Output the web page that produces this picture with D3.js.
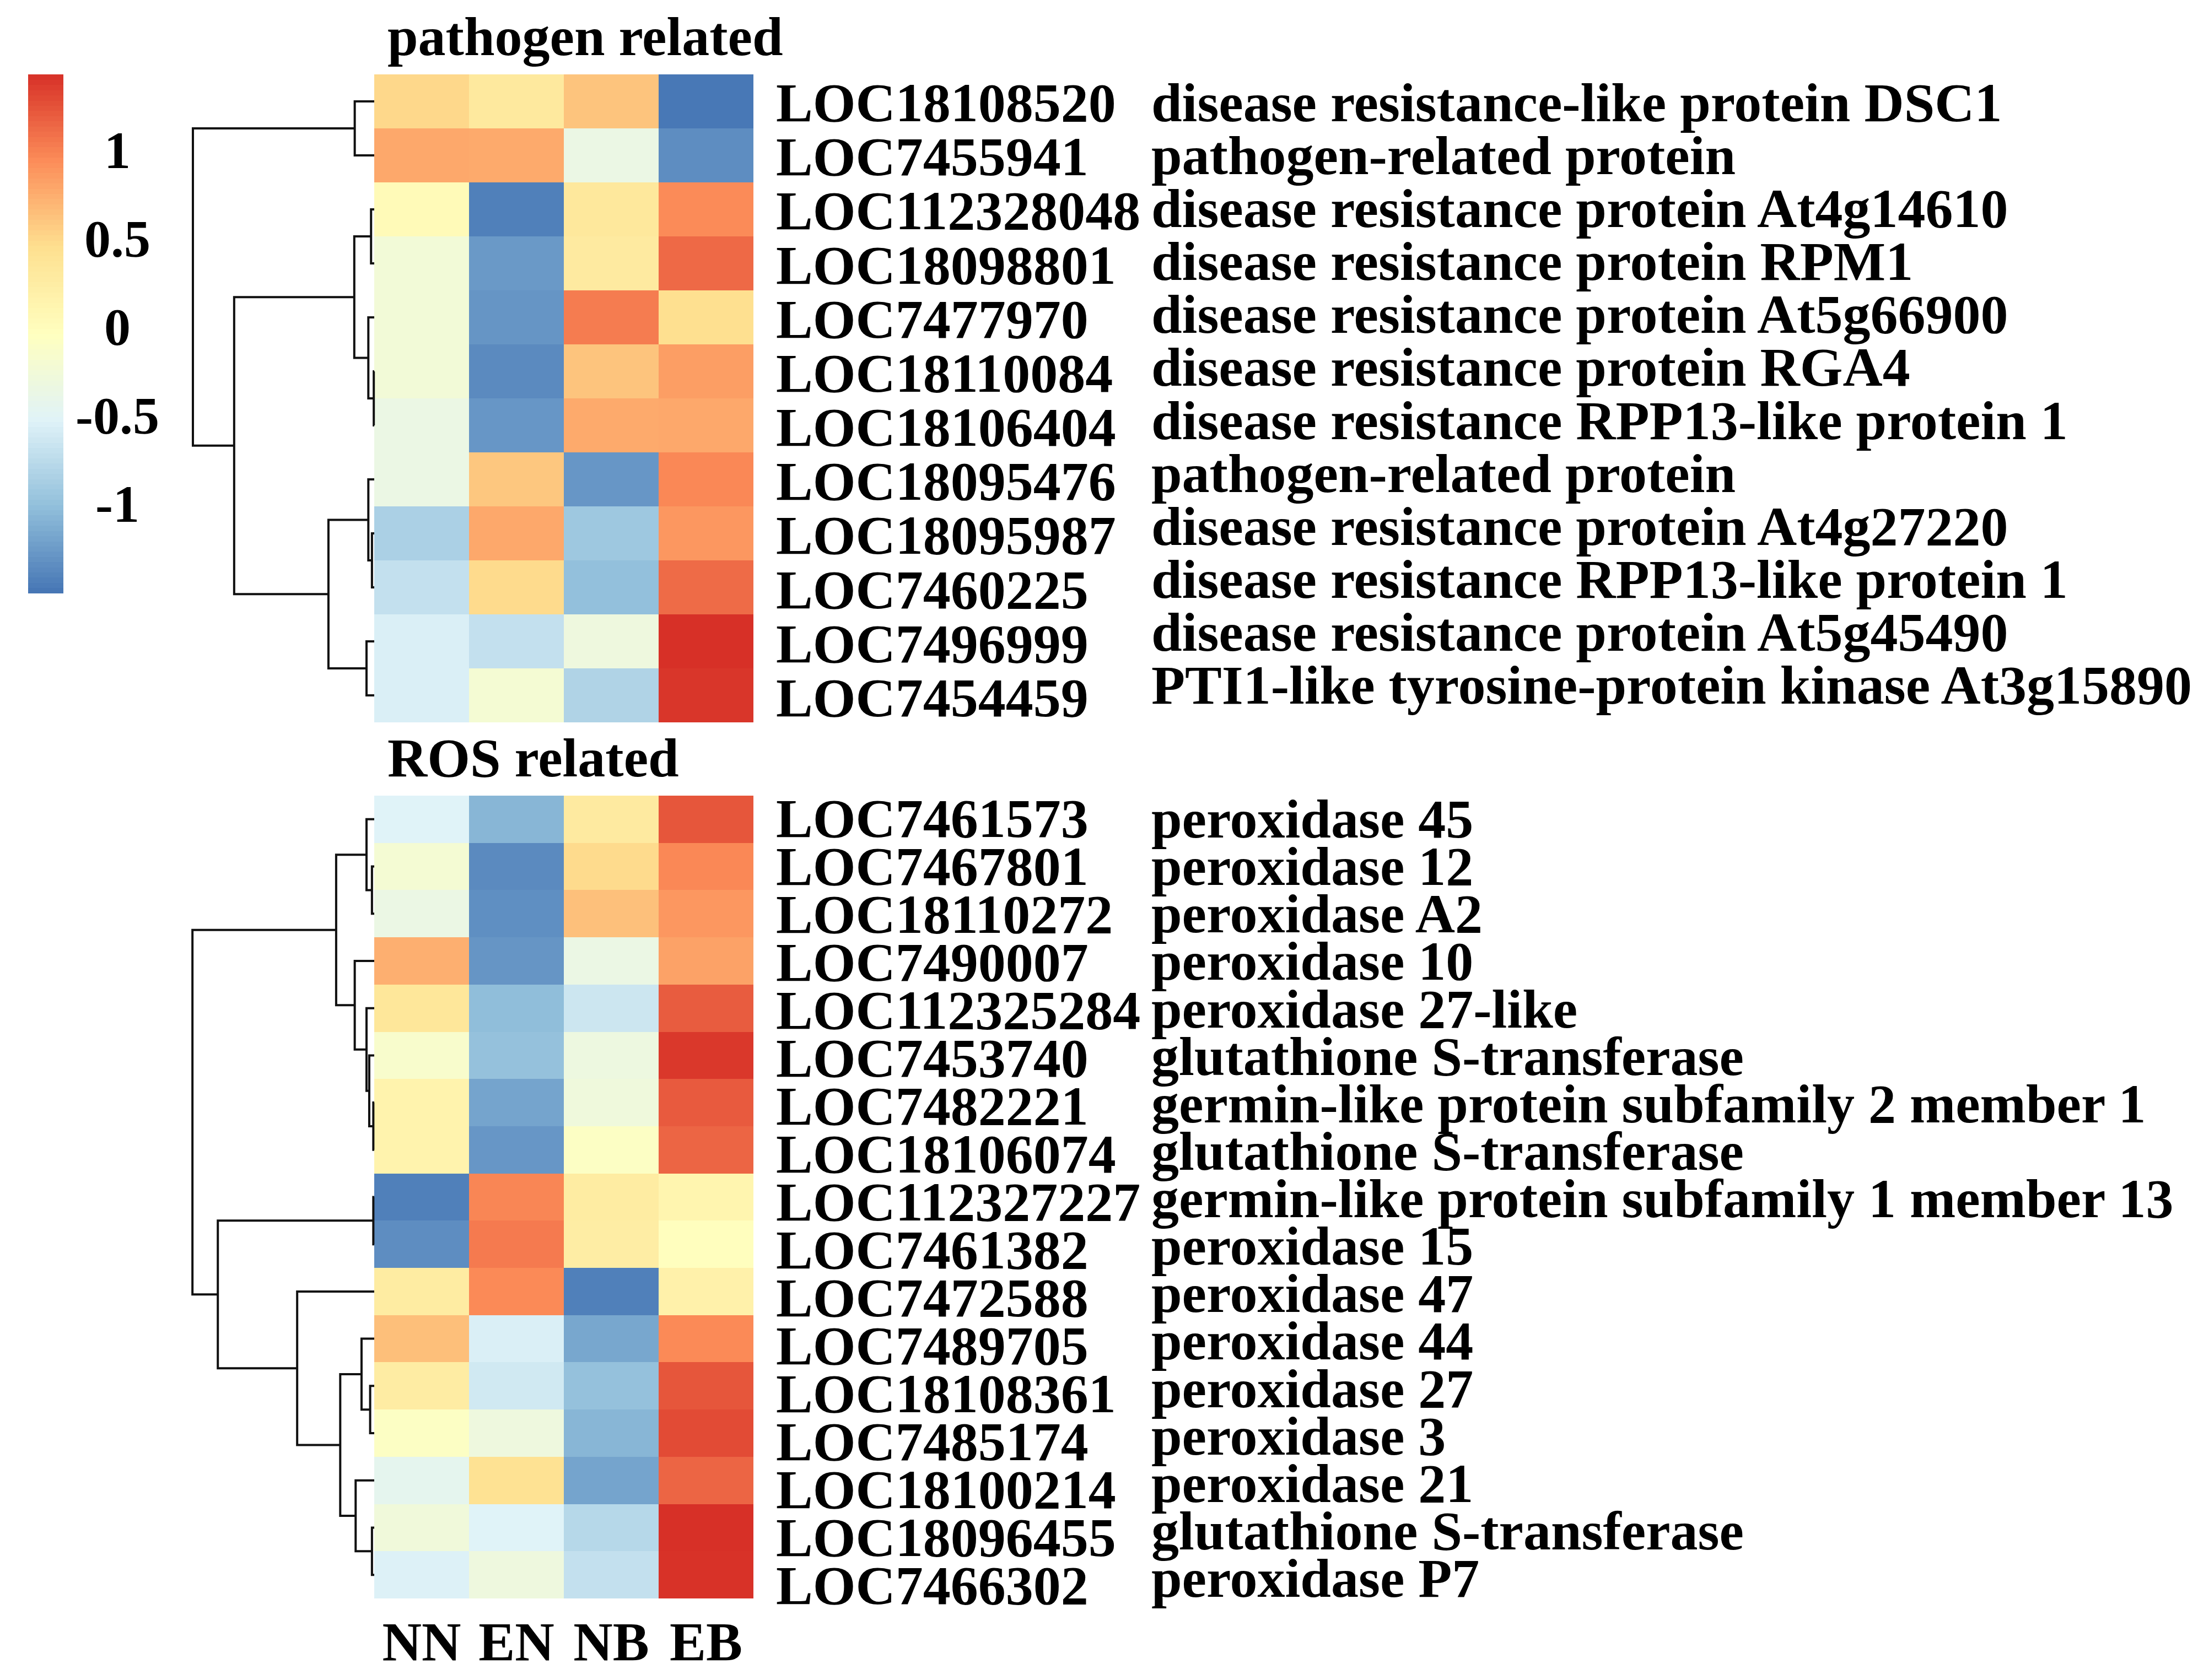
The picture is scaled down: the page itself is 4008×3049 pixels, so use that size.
<!DOCTYPE html>
<html>
<head>
<meta charset="utf-8">
<script src="https://cdn.jsdelivr.net/npm/d3@7"></script>
<style>
  html, body { margin: 0; padding: 0; background: #ffffff; }
  svg { display: block; }
  text { font-family: "Liberation Serif", "Times New Roman", serif; font-weight: bold; fill: #000; }
</style>
</head>
<body>
<svg id="chart" width="4008" height="3049"></svg>
<script>
// ---------------- DATA ----------------
const columns = ["NN", "EN", "NB", "EB"];

const pathogenIds = ["LOC18108520", "LOC7455941", "LOC112328048", "LOC18098801", "LOC7477970", "LOC18110084",
  "LOC18106404", "LOC18095476", "LOC18095987", "LOC7460225", "LOC7496999", "LOC7454459"];
const pathogenNames = ["disease resistance-like protein DSC1", "pathogen-related protein",
  "disease resistance protein At4g14610", "disease resistance protein RPM1",
  "disease resistance protein At5g66900", "disease resistance protein RGA4",
  "disease resistance RPP13-like protein 1", "pathogen-related protein",
  "disease resistance protein At4g27220", "disease resistance RPP13-like protein 1",
  "disease resistance protein At5g45490", "PTI1-like tyrosine-protein kinase At3g15890"];
// z-scores, columns NN, EN, NB, EB
const pathogenValues = [
  [0.50, 0.31, 0.62, -1.48],
  [0.78, 0.77, -0.35, -1.34],
  [0.04, -1.43, 0.33, 0.95],
  [-0.24, -1.26, 0.29, 1.13],
  [-0.24, -1.29, 1.03, 0.45],
  [-0.24, -1.36, 0.62, 0.84],
  [-0.35, -1.28, 0.77, 0.78],
  [-0.35, 0.60, -1.28, 0.97],
  [-0.85, 0.78, -0.93, 0.88],
  [-0.70, 0.48, -1.00, 1.12],
  [-0.56, -0.70, -0.30, 1.43],
  [-0.56, -0.21, -0.82, 1.40]
];
// hclust-style merge table (negative = leaf row, positive = earlier merge step) and heights
const pathogenMerge = [[-6, -7], [-9, -10], [-3, -4], [-5, 1], [-8, 2], [-11, -12], [-1, -2], [3, 4], [5, 6], [8, 9], [7, 10]];
const pathogenHeights = [0.01, 0.05, 0.07, 0.13, 0.13, 0.17, 0.43, 0.44, 1.01, 3.09, 4.00];

const rosIds = ["LOC7461573", "LOC7467801", "LOC18110272", "LOC7490007", "LOC112325284", "LOC7453740",
  "LOC7482221", "LOC18106074", "LOC112327227", "LOC7461382", "LOC7472588", "LOC7489705",
  "LOC18108361", "LOC7485174", "LOC18100214", "LOC18096455", "LOC7466302"];
const rosNames = ["peroxidase 45", "peroxidase 12", "peroxidase A2", "peroxidase 10", "peroxidase 27-like",
  "glutathione S-transferase", "germin-like protein subfamily 2 member 1", "glutathione S-transferase",
  "germin-like protein subfamily 1 member 13", "peroxidase 15", "peroxidase 47", "peroxidase 44",
  "peroxidase 27", "peroxidase 3", "peroxidase 21", "glutathione S-transferase", "peroxidase P7"];
const rosValues = [
  [-0.52, -1.07, 0.29, 1.23],
  [-0.21, -1.36, 0.48, 0.97],
  [-0.35, -1.33, 0.64, 0.88],
  [0.74, -1.29, -0.35, 0.82],
  [0.35, -1.02, -0.65, 1.20],
  [-0.15, -0.99, -0.32, 1.39],
  [0.15, -1.19, -0.28, 1.21],
  [0.15, -1.28, -0.08, 1.15],
  [-1.43, 0.98, 0.27, 0.13],
  [-1.34, 1.04, 0.25, -0.02],
  [0.27, 0.96, -1.43, 0.18],
  [0.65, -0.56, -1.17, 0.96],
  [0.26, -0.62, -0.99, 1.23],
  [-0.08, -0.30, -1.07, 1.29],
  [-0.44, 0.42, -1.19, 1.15],
  [-0.27, -0.52, -0.78, 1.43],
  [-0.54, -0.30, -0.70, 1.42]
];
const rosMerge = [[-7, -8], [-9, -10], [-2, -3], [-16, -17], [-13, -14], [-6, 1], [-1, 3], [-5, 6],
  [-12, 5], [-15, 4], [-4, 8], [9, 10], [7, 11], [-11, 12], [2, 14], [13, 15]];
const rosHeights = [0.02, 0.02, 0.05, 0.05, 0.09, 0.11, 0.17, 0.17, 0.28, 0.41, 0.43, 0.75, 0.84, 1.70, 3.45, 4.01];

const panelTitles = ["pathogen related", "ROS related"];
const legendTicks = [1, 0.5, 0, -0.5, -1];
const legendTickLabels = ["1", "0.5", "0", "-0.5", "-1"];
const colorStops = ["#4575B4", "#91BFDB", "#E0F3F8", "#FFFFBF", "#FEE090", "#FC8D59", "#D73027"];
const valueRange = [-1.50, 1.43];

// ---------------- DRAWING ----------------
const svg = d3.select("#chart");
svg.append("rect").attr("width", 4008).attr("height", 3049).attr("fill", "#fff");

const vmin = valueRange[0], vmax = valueRange[1];
const color = d3.scaleLinear()
  .domain(colorStops.map((c, i) => vmin + i * (vmax - vmin) / (colorStops.length - 1)))
  .range(colorStops)
  .interpolate(d3.interpolateRgb)
  .clamp(true);

const x = d3.scaleBand().domain(columns).range([679, 1367]);
const dendroX = d3.scaleLinear().domain([0, 4.0]).range([679, 350]);

const panels = [
  { ids: pathogenIds, names: pathogenNames, values: pathogenValues, merge: pathogenMerge, heights: pathogenHeights,
    rows: [135, 1311], locY: [220, 1300], descY: [220, 1277], title: panelTitles[0], titleY: 100 },
  { ids: rosIds, names: rosNames, values: rosValues, merge: rosMerge, heights: rosHeights,
    rows: [1444, 2901], locY: [1519, 2911], descY: [1520, 2898], title: panelTitles[1], titleY: 1409 }
];

const labelSize = 100;

panels.forEach(p => {
  const n = p.ids.length;
  const y = d3.scaleBand().domain(d3.range(n)).range(p.rows);
  const g = svg.append("g");

  // cells
  const cells = [];
  p.values.forEach((row, i) => row.forEach((v, j) => cells.push({ i, col: columns[j], v })));
  g.append("g").selectAll("rect").data(cells).join("rect")
    .attr("x", d => x(d.col))
    .attr("y", d => y(d.i))
    .attr("width", d => x.bandwidth() + (d.col === columns[columns.length - 1] ? 0 : 0.6))
    .attr("height", d => y.bandwidth() + (d.i === n - 1 ? 0 : 0.6))
    .attr("fill", d => color(d.v))
    .attr("shape-rendering", "crispEdges");

  // dendrogram
  const leafY = i => y(i) + y.bandwidth() / 2;
  const nodes = [];
  const child = k => k < 0 ? { y: leafY(-k - 1), h: 0 } : nodes[k - 1];
  const paths = [];
  p.merge.forEach(([a, b], idx) => {
    const ca = child(a), cb = child(b), h = p.heights[idx];
    nodes.push({ y: (ca.y + cb.y) / 2, h });
    paths.push(`M${dendroX(ca.h)},${ca.y}H${dendroX(h)}V${cb.y}H${dendroX(cb.h)}`);
  });
  g.append("g").selectAll("path").data(paths).join("path")
    .attr("d", d => d)
    .attr("fill", "none")
    .attr("stroke", "#111")
    .attr("stroke-width", 4)
    .attr("stroke-linejoin", "miter");

  // labels
  const locY = d3.scalePoint().domain(d3.range(n)).range(p.locY);
  const descY = d3.scalePoint().domain(d3.range(n)).range(p.descY);
  g.append("g").selectAll("text").data(p.ids).join("text")
    .attr("x", 1408)
    .attr("y", (d, i) => locY(i))
    .attr("font-size", labelSize)
    .text(d => d);
  g.append("g").selectAll("text").data(p.names).join("text")
    .attr("x", 2089)
    .attr("y", (d, i) => descY(i))
    .attr("font-size", labelSize)
    .text(d => d);

  // title
  g.append("text").attr("x", 703).attr("y", p.titleY).attr("font-size", 100).text(p.title);
});

// column labels
svg.append("g").selectAll("text").data(columns).join("text")
  .attr("x", d => x(d) + x.bandwidth() / 2)
  .attr("y", 3013)
  .attr("text-anchor", "middle")
  .attr("font-size", 99)
  .text(d => d);

// legend
const legendY = d3.scaleLinear().domain(valueRange).range([1076, 135]);
const steps = 100;
const stepVals = d3.range(steps).map(i => vmin + (i + 0.5) * (vmax - vmin) / steps);
const stepH = (vmax - vmin) / steps;
svg.append("g").selectAll("rect").data(stepVals).join("rect")
  .attr("x", 51)
  .attr("width", 64)
  .attr("y", d => legendY(d + stepH / 2))
  .attr("height", d => legendY(d - stepH / 2) - legendY(d + stepH / 2) + 0.6)
  .attr("fill", d => color(d))
  .attr("shape-rendering", "crispEdges");

svg.append("g").selectAll("text").data(legendTicks).join("text")
  .attr("x", 213)
  .attr("y", d => legendY(d) + 32)
  .attr("text-anchor", "middle")
  .attr("font-size", 96)
  .text((d, i) => legendTickLabels[i]);
</script>
</body>
</html>
